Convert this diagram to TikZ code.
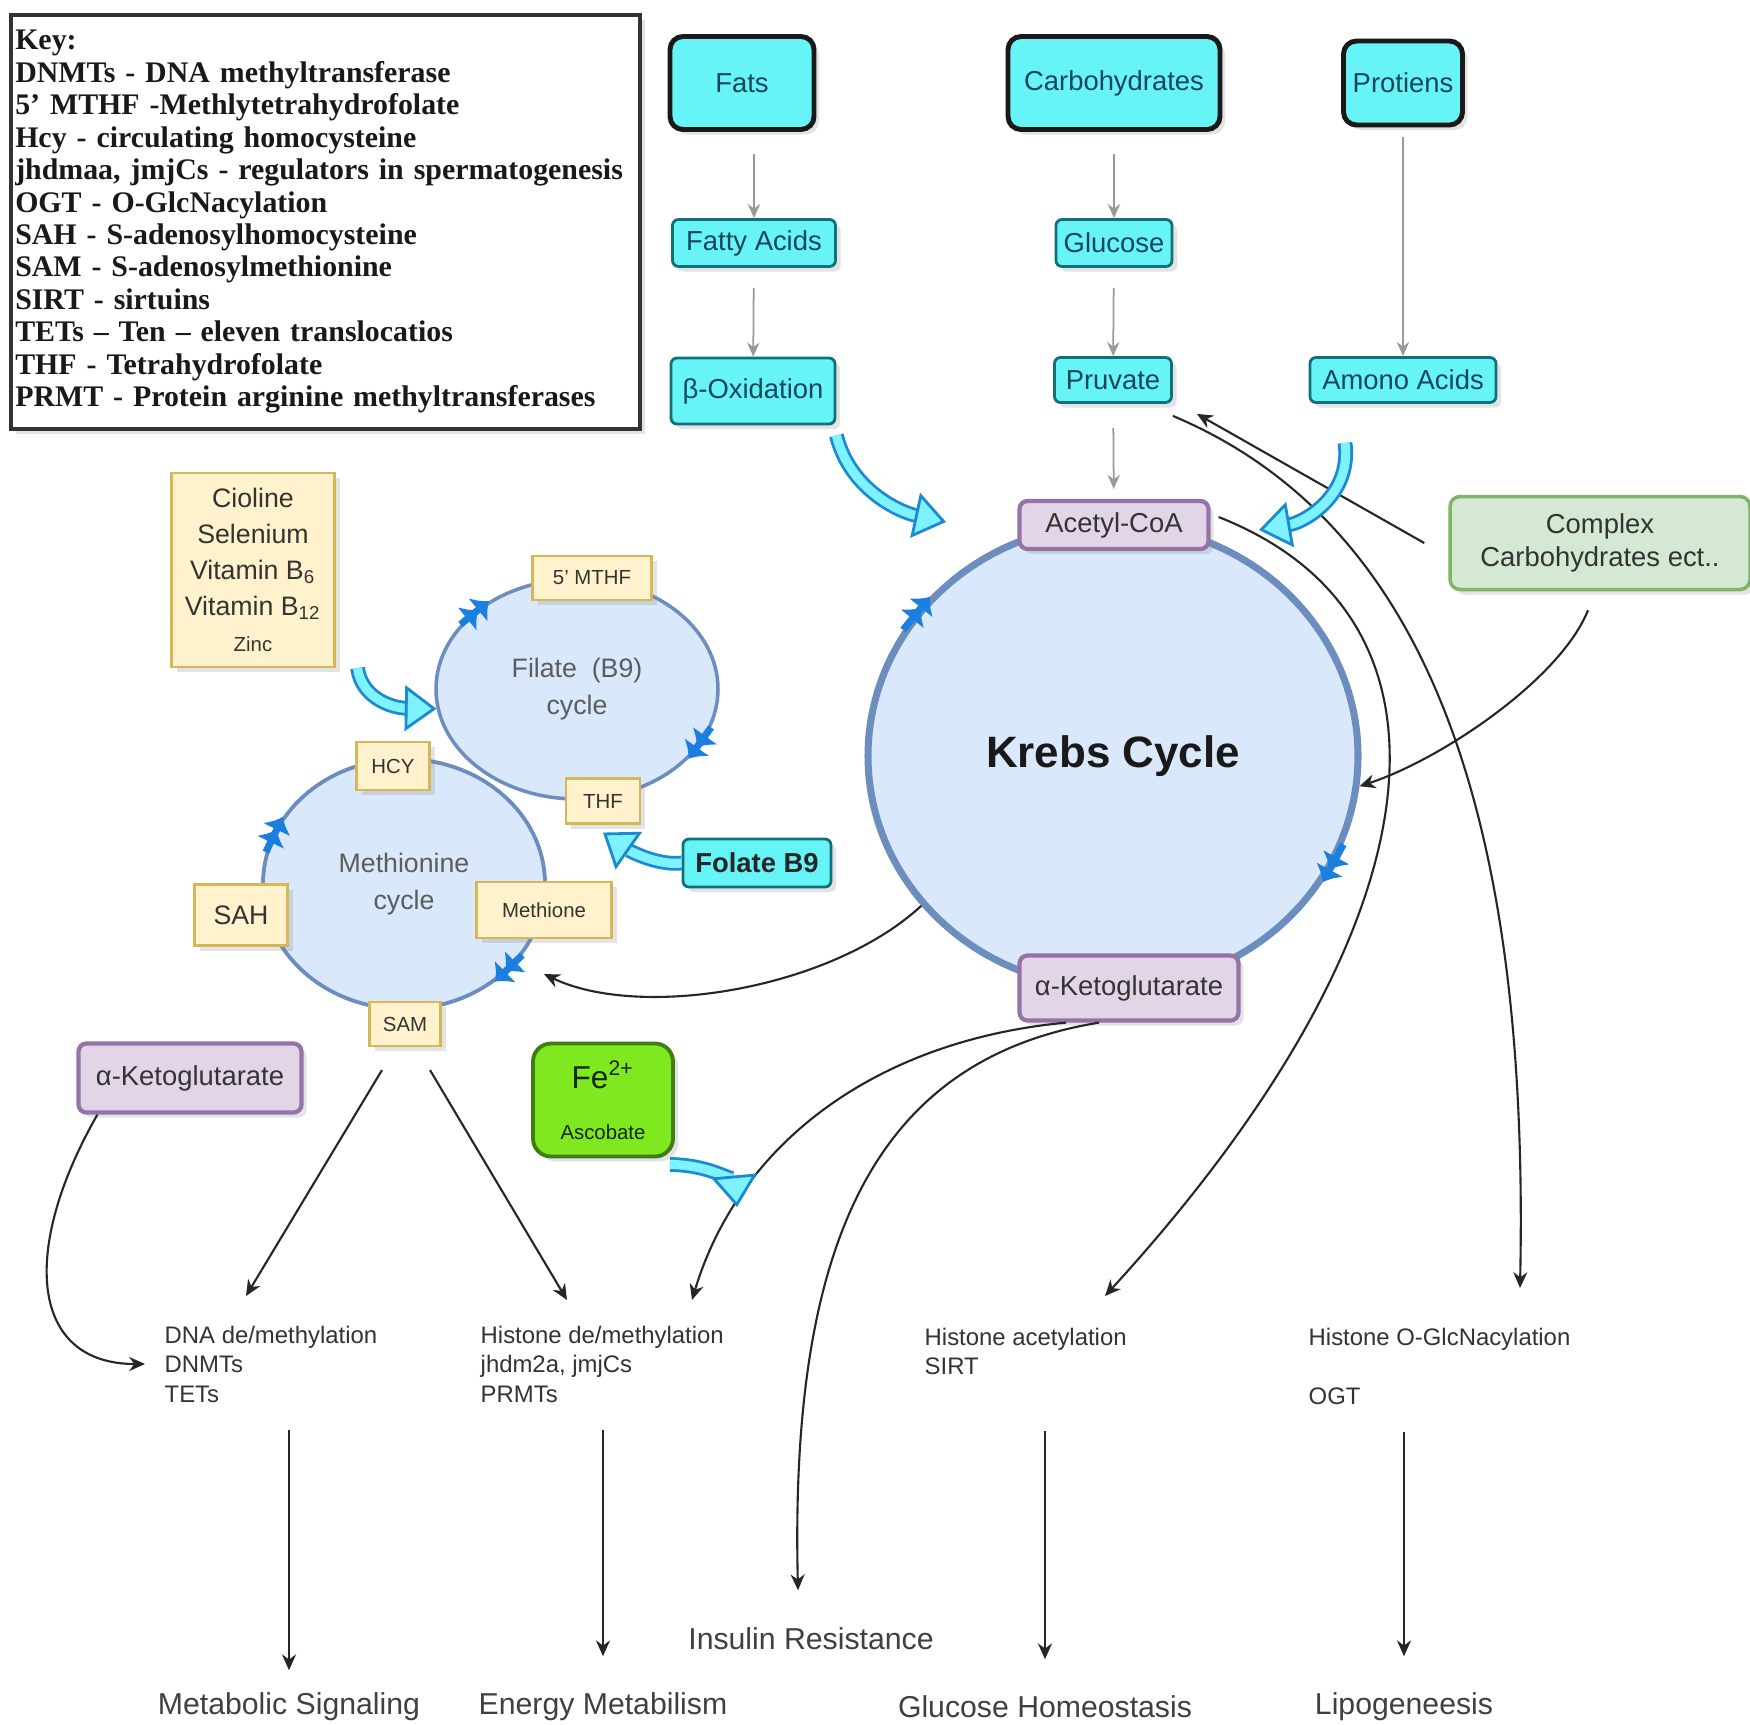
\documentclass[tikz,border=0pt]{standalone}
\usepackage{fontspec}
\setmainfont{Liberation Sans}
\newfontfamily\keyfamily{Liberation Serif}
\usetikzlibrary{
		arrows.meta,
		shapes.geometric,
		shadows
	}
\definecolor{foodfill}{HTML}{66F4F6}
\definecolor{fooddraw}{HTML}{12707A}
\definecolor{foodtext}{HTML}{17465A}
\definecolor{cycfill}{HTML}{DAE8FC}
\definecolor{cycdraw}{HTML}{6C8EBF}
\definecolor{notefill}{HTML}{FFF2CC}
\definecolor{notedraw}{HTML}{D6B656}
\definecolor{acidfill}{HTML}{E1D5E7}
\definecolor{aciddraw}{HTML}{9673A6}
\definecolor{cplxfill}{HTML}{D5E8D4}
\definecolor{cplxdraw}{HTML}{82B366}
\definecolor{ironfill}{HTML}{7FE81F}
\definecolor{irondraw}{HTML}{3F7F12}
\definecolor{markblue}{HTML}{1B7FE0}
\definecolor{fatblue}{HTML}{1C8AD2}
\definecolor{fatcyan}{HTML}{7FF2FF}
\definecolor{inktext}{HTML}{333333}
\newcommand{\fsFood}{\fontsize{7.8}{9.4}\selectfont}
\newcommand{\fsNote}{\fontsize{7.6}{10.3}\selectfont}
\newcommand{\fsTiny}{\fontsize{5.8}{7}\selectfont}
\newcommand{\fsEffect}{\fontsize{6.8}{8.4}\selectfont}
\newcommand{\fsOutcome}{\fontsize{8.6}{10}\selectfont}
\newcommand{\fsKrebs}{\fontsize{12.5}{14}\selectfont\bfseries}
\newcommand{\fsKey}{\keyfamily\bfseries\fontsize{8.5}{9.24}\selectfont}
\newcommand{\fsFe}{\fontsize{9}{10}\selectfont}
\tikzset{
		>={Stealth[length=4.5pt,width=4pt]},
		shade/.style={drop shadow={opacity=0.22,shadow xshift=0.5mm,shadow yshift=-0.5mm}},
		food/.style={draw=black!90, line width=1.4pt, fill=foodfill, rounded corners=1.3mm, text=foodtext, font=\fsFood, inner sep=0pt, shade},
		foodsub/.style={food, draw=fooddraw, line width=0.8pt, rounded corners=0.6mm},
		acid/.style={draw=aciddraw, line width=1.2pt, fill=acidfill, rounded corners=0.8mm, text=inktext, font=\fsFood, inner sep=0pt, shade},
		note/.style={draw=notedraw, line width=0.6pt, fill=notefill, text=inktext, font=\fsTiny, inner sep=0pt, shade},
		cplx/.style={draw=cplxdraw, line width=1pt, fill=cplxfill, rounded corners=1mm, text=inktext, font=\fsFood, align=center, shade},
		iron/.style={draw=irondraw, line width=1.1pt, fill=ironfill, rounded corners=1.8mm, text=black!70!irondraw, align=center, shade},
		krebsring/.style={ellipse, draw=cycdraw, line width=2pt, fill=cycfill, text=black!90, font=\fsKrebs},
		cyc/.style={ellipse, draw=cycdraw, line width=1pt, fill=cycfill, text=inktext!80, font=\fsNote, align=center, inner sep=0pt},
		cycedge/.style={ellipse, draw=cycdraw, line width=1pt, inner sep=0pt},
		cycmark/.style={draw=markblue, line width=2pt, -{Latex[length=4pt,width=9pt]Latex[length=4pt,width=9pt]}},
		fatarrow/.style={draw=fatblue, line width=0.8pt, double=fatcyan, double distance=2.6pt, -{Triangle[length=9pt,width=13pt,fill=fatcyan]}},
		feed/.style={draw=black!40, line width=0.5pt, -{Stealth[length=4pt,width=3.5pt]}},
		link/.style={draw=black!85, line width=0.6pt, ->},
		effect/.style={font=\fsEffect, text=inktext, align=left, inner sep=0pt, anchor=north west},
		outcome/.style={font=\fsOutcome, text=black!75, inner sep=0pt},
		keybox/.style={draw=black!80, line width=1pt, fill=white, text=black!90, font=\fsKey, align=left, inner xsep=0.4mm, shade}
	}
\begin{document}
\begin{tikzpicture}[x=0.1mm, y=-0.1mm]
		\path[use as bounding box, fill=white] (0,0) rectangle (1750,1724);
		% key
		\node[keybox, anchor=north west, minimum width=62.9mm, minimum height=41.4mm, text width=62mm] (legend) at (9,13) {Key:\\DNMTs - DNA methyltransferase\\5’ MTHF -Methlytetrahydrofolate\\Hcy - circulating homocysteine\\jhdmaa, jmjCs - regulators in spermatogenesis\\OGT - O-GlcNacylation\\SAH - S-adenosylhomocysteine\\SAM - S-adenosylmethionine\\SIRT - sirtuins\\TETs – Ten – eleven translocatios\\THF - Tetrahydrofolate\\PRMT - Protein arginine methyltransferases};
		% food sources
		\node[food, minimum width=14.4mm, minimum height=9.3mm] (fats) at (742,83) {Fats};
		\node[food, minimum width=21.2mm, minimum height=9.3mm] (carbs) at (1114,83) {Carbohydrates};
		\node[food, minimum width=11.9mm, minimum height=8.4mm] (protiens) at (1403,83) {Protiens};
		\node[foodsub, minimum width=16.3mm, minimum height=4.7mm] (fattyacids) at (754,243) {Fatty Acids};
		\node[foodsub, minimum width=11.6mm, minimum height=4.7mm] (glucose) at (1114,243) {Glucose};
		\node[foodsub, minimum width=16.4mm, minimum height=6.6mm] (betaox) at (753,391) {β-Oxidation};
		\node[foodsub, minimum width=11.7mm, minimum height=4.5mm] (pruvate) at (1113,380) {Pruvate};
		\node[foodsub, minimum width=18.6mm, minimum height=4.5mm] (aminoacids) at (1403,380) {Amono Acids};
		\draw[feed, shorten <=2.2mm] (fats.south -| fattyacids.north) -- (fattyacids.north);
		\draw[feed, shorten <=2mm] (fattyacids) -- (betaox);
		\draw[feed, shorten <=2.2mm] (carbs) -- (glucose);
		\draw[feed, shorten <=2mm] (glucose) -- (pruvate);
		\draw[feed, shorten <=1mm] (protiens) -- (aminoacids);
		% krebs cycle
		\node[krebsring, minimum width=49mm, minimum height=46.4mm] (krebs) at (1113,756) {Krebs Cycle};
		\node[acid, minimum width=18.9mm, minimum height=4.8mm] (acetyl) at (1114,525) {Acetyl-CoA};
		\node[acid, minimum width=21.9mm, minimum height=6.5mm] (akgk) at (1129,988) {α-Ketoglutarate};
		\draw[cycmark] (krebs.149) -- (krebs.139);
		\draw[cycmark] (krebs.-21) -- (krebs.-31);
		\draw[feed, shorten <=2.4mm, shorten >=1mm] (pruvate) -- (acetyl);
		\node[cplx, minimum width=30mm, minimum height=9.3mm] (complex) at (1600,543) {Complex\\Carbohydrates ect..};
		% folate and methionine cycles
		\node[note, font=\fsNote, minimum width=16.3mm, minimum height=19.4mm, align=center] (nutrients) at (253,570) {Cioline\\Selenium\\Vitamin B\textsubscript{6}\\Vitamin B\textsubscript{12}\\{\fsTiny Zinc}};
		\node[cyc, minimum width=28.2mm, minimum height=25mm] (methcyc) at (404,884) {Methionine\\cycle};
		\node[cyc, minimum width=28.2mm, minimum height=22mm] (folcyc) at (577,689) {Filate~~(B9)\\cycle};
		\node[cycedge, minimum width=28.2mm, minimum height=25mm] (methedge) at (methcyc.center) {};
		\draw[cycmark] (folcyc.151) -- (folcyc.135);
		\draw[cycmark] (folcyc.-16) -- (folcyc.-32);
		\draw[cycmark] (methcyc.167) -- (methcyc.151);
		\draw[cycmark] (methcyc.-31) -- (methcyc.-47);
		\node[note, minimum width=11.9mm, minimum height=4.4mm] (mthf) at (592,578) {5’ MTHF};
		\node[note, minimum width=7.4mm, minimum height=4.5mm] (thf) at (603,801) {THF};
		\node[note, minimum width=7.3mm, minimum height=4.8mm] (hcy) at (393,766) {HCY};
		\node[note, font=\fsNote, minimum width=9.3mm, minimum height=6.1mm] (sah) at (241,915) {SAH};
		\node[note, minimum width=13.5mm, minimum height=5.6mm] (methione) at (544,910) {Methione};
		\node[note, minimum width=7.1mm, minimum height=4.4mm] (sam) at (405,1024) {SAM};
		\node[foodsub, font=\fsFood\bfseries, text=black!85, minimum width=14.8mm, minimum height=4.8mm] (folateb9) at (757,863) {Folate B9};
		\node[acid, minimum width=22.3mm, minimum height=6.9mm] (akgl) at (190,1078) {α-Ketoglutarate};
		\node[iron, minimum width=14mm, minimum height=11.3mm] (iron) at (603,1100) {{\fsFe Fe\textsuperscript{2+}}\\[0.8mm]{\fsTiny Ascobate}};
		% epigenetic effects
		\node[effect] (dnatxt) at (164,1325) {DNA de/methylation\\DNMTs\\TETs};
		\node[effect] (histdm) at (480,1325) {Histone de/methylation\\jhdm2a, jmjCs\\PRMTs};
		\node[effect] (histac) at (924,1327) {Histone acetylation\\SIRT};
		\node[effect] (histog) at (1308,1327) {Histone O-GlcNacylation\\[8.4pt]OGT};
		\node[outcome] (metsig) at (289,1707) {Metabolic Signaling};
		\node[outcome] (energy) at (603,1707) {Energy Metabilism};
		\node[outcome] (insulin) at (811,1639) {Insulin Resistance};
		\node[outcome] (glucoseh) at (1045,1707) {Glucose Homeostasis};
		\node[outcome] (lipo) at (1404,1707) {Lipogeneesis};
		% connectors
		\draw[link] ([xshift=-2.4mm]complex.west) -- ([xshift=2.4mm,yshift=-1mm]pruvate.south east);
		\draw[link] ([xshift=-1.2mm,yshift=-1.9mm]complex.south) .. controls (1560,680) and (1440,760) .. (krebs.-7);
		\draw[link] ([yshift=-1.2mm]pruvate.south east) .. controls (1420,520) and (1530,800) .. ([xshift=21.2mm,yshift=3.9mm]histog.north west);
		\draw[link] ([xshift=0.8mm,yshift=0.8mm]acetyl.east) .. controls (1480,620) and (1440,930) .. ([xshift=18.1mm,yshift=3.1mm]histac.north west);
		\draw[link] (krebs.218) .. controls (830,990) and (640,1020) .. ([yshift=-3.5mm]methione.south);
		\draw[link] ([xshift=-6.3mm]akgk.south) .. controls (880,1040) and (740,1140) .. ([xshift=21.2mm,yshift=2.5mm]histdm.north west);
		\draw[link] ([xshift=-3mm]akgk.south) .. controls (870,1060) and (790,1250) .. ([xshift=-1.3mm,yshift=3.7mm]insulin.north);
		\draw[link] ([xshift=-2.3mm,yshift=-2.3mm]sam.south) -- ([xshift=8.2mm,yshift=2.9mm]dnatxt.north west);
		\draw[link] ([xshift=2.5mm,yshift=-2.3mm]sam.south) -- ([xshift=8.7mm,yshift=2.5mm]histdm.north west);
		\draw[link] ([xshift=2.1mm]akgl.south west) .. controls (20,1250) and (30,1364) .. ([xshift=-1.9mm]dnatxt.west);
		\draw[link, shorten <=2.7mm, shorten >=2.2mm] (metsig.north |- dnatxt.south) -- (metsig.north);
		\draw[link, shorten <=2.7mm, shorten >=3.6mm] (energy.north |- histdm.south) -- (energy.north);
		\draw[link, shorten <=5.6mm, shorten >=3.6mm] (glucoseh.north |- histac.south) -- (glucoseh.north);
		\draw[link, shorten <=2.7mm, shorten >=3.6mm] (lipo.north |- histog.south) -- (lipo.north);
		% fat arrows
		\coordinate (krebsin) at (946,522);
		\coordinate (acetylin) at (1259,530);
		\coordinate (irontip) at (737,1207);
		\draw[fatarrow] ([yshift=-1mm]betaox.south east) .. controls (850,490) and (900,512) .. (krebsin);
		\draw[fatarrow] ([xshift=-5.8mm,yshift=-3.9mm]aminoacids.south) .. controls (1352,495) and (1305,522) .. (acetylin);
		\draw[fatarrow] ([xshift=2.2mm]nutrients.south east) .. controls (362,700) and (395,708) .. (folcyc.188);
		\draw[fatarrow] (folateb9.west) .. controls (655,866) and (625,848) .. ([yshift=-0.8mm]thf.south);
		\draw[fatarrow] ([xshift=-0.5mm,yshift=-0.6mm]iron.south east) .. controls (715,1165) and (735,1185) .. (irontip);
	\end{tikzpicture}
\end{document}
